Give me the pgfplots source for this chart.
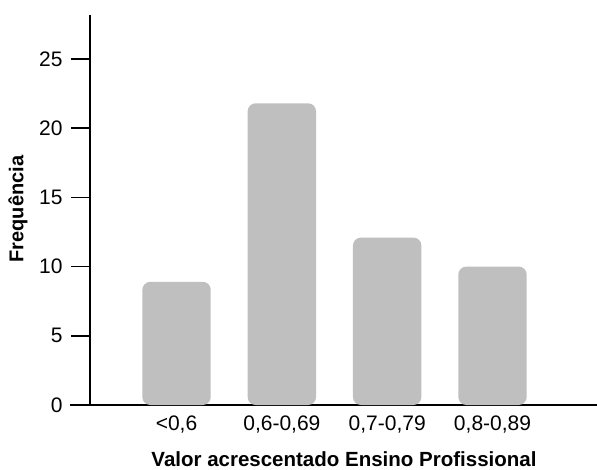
\documentclass[border=0pt]{standalone}
\usepackage{pgfplots}
\pgfplotsset{compat=1.18}
\usepackage{fontspec}
\setmainfont{Liberation Sans}
\begin{document}
\begin{tikzpicture}[x=1pt,y=1pt]
\useasboundingbox (0,0) rectangle (597,469);
\begin{axis}[
 at={(90pt,64pt)}, anchor=south west,
 scale only axis, width=507pt, height=390pt,
 xmin=0.1785, xmax=4.992, ymin=0, ymax=28.18,
 axis x line=bottom, axis y line=left,
 axis line style={-, line width=1.6pt, black},
 xtick={1,2,3,4}, xticklabels={{<0,6},{0,6-0,69},{0,7-0,79},{0,8-0,89}},
 x tick style={draw=none},
 xtick align=inside,
 ytick={0,5,10,15,20,25},
 y tick style={line width=1.6pt, black},
 ytick align=outside, major tick length=19pt,
 ticklabel style={font=\fontsize{21}{24}\selectfont},
 x tick label style={yshift=12pt},
 y tick label style={xshift=-5pt},
 /pgf/number format/assume math mode=true,
 ybar, bar width=68.4pt,
 clip=false,
]
\addplot[fill=gray!50, draw=none, rounded corners=8pt] coordinates {(1,8.9)(2,21.8)(3,12.1)(4,10)};
\end{axis}
\draw[line width=1.6pt] (70,64) -- (90,64);
\node[anchor=base, font=\fontsize{20.5}{24}\selectfont\bfseries] at (344,3) {Valor acrescentado Ensino Profissional};
\node[rotate=90, font=\fontsize{20}{24}\selectfont\bfseries] at (18,260) {Frequência};
\end{tikzpicture}
\end{document}
